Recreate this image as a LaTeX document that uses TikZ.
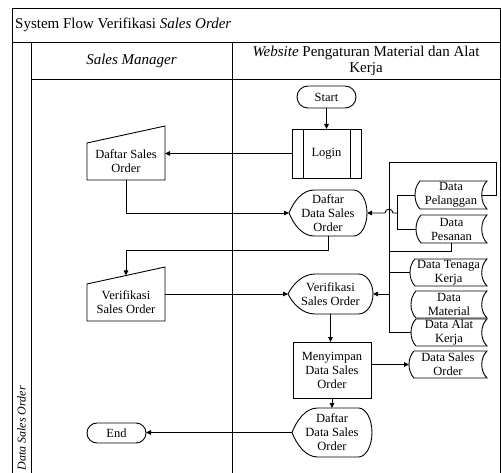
\documentclass[tikz,border=0pt]{standalone}
\usepackage{fontspec}
\setmainfont{Liberation Serif}
\usetikzlibrary{arrows.meta,shapes.misc,calc}

\tikzset{
  ln/.style={line width=0.9pt},
  arr/.style={ln,-{Triangle[length=5pt,width=4.5pt]}},
  txt/.style={align=center,font=\fontsize{12.5}{14}\selectfont,inner sep=0pt,outer sep=0pt},
  hdr/.style={align=center,font=\fontsize{15}{17}\selectfont,inner sep=0pt},
  term/.style={txt,draw,ln,rounded rectangle,minimum width=59pt},
}

\newcommand\MyManual[7]{%
  \pgfmathsetmacro\shW{#4-#2}\pgfmathsetmacro\shH{#5-#3}%
  \draw[ln] (#2,{#3+#6}) -- (#4,#3) -- (#4,#5) -- (#2,#5) -- cycle;
  \node[txt,minimum width=\shW pt,minimum height=\shH pt] (#1) at ({(#2+#4)/2},{(#3+#5)/2}) {};
  \node[txt] (#1-t) at ({(#2+#4)/2},{(#3+#6+#5)/2}) {#7};
  \coordinate (#1-top) at ({(#2+#4)/2},{#3+#6/2});
}
\newcommand\MyDisplay[6]{%
  \pgfmathsetmacro\shW{#4-#2}\pgfmathsetmacro\shH{#5-#3}\pgfmathsetmacro\shM{(#3+#5)/2}%
  \pgfmathsetmacro\shA{#2+0.32*\shW}\pgfmathsetmacro\shB{#4-0.17*\shW}\pgfmathsetmacro\shC{#4-0.17*\shW*0.45}%
  \draw[ln] (#2,\shM) .. controls ({#2+0.06*\shW},{#3+0.25*\shH}) and ({#2+0.17*\shW},#3) .. (\shA,#3)
     -- (\shB,#3) .. controls (\shC,#3) and (#4,{\shM-0.276*\shH}) .. (#4,\shM)
     .. controls (#4,{\shM+0.276*\shH}) and (\shC,#5) .. (\shB,#5)
     -- (\shA,#5) .. controls ({#2+0.17*\shW},#5) and ({#2+0.06*\shW},{#5-0.25*\shH}) .. (#2,\shM) -- cycle;
  \node[txt,minimum width=\shW pt,minimum height=\shH pt] (#1) at ({(#2+#4)/2},\shM) {#6};
}
\newcommand\MyStore[6]{%
  \pgfmathsetmacro\shW{#4-#2}\pgfmathsetmacro\shH{#5-#3}%
  \draw[ln] ({#2+5},#3) -- (#4,#3) .. controls ({#4-7},{#3+0.25*\shH}) and ({#4-7},{#5-0.25*\shH}) .. (#4,#5)
     -- ({#2+5},#5) .. controls ({#2-1.67},{#5-0.25*\shH}) and ({#2-1.67},{#3+0.25*\shH}) .. ({#2+5},#3) -- cycle;
  \node[txt,minimum width=\shW pt,minimum height=\shH pt] (#1) at ({(#2+#4)/2},{(#3+#5)/2}) {#6};
}

\begin{document}
\begin{tikzpicture}[x=1pt,y=-1pt]
\useasboundingbox (0,0) rectangle (501,473);
\clip (0,0) rectangle (501,473);

% frame
\draw[ln] (12,480) -- (12,8) -- (500,8) -- (500,480);
\draw[ln] (12,42) -- (500,42);
\draw[ln] (31,42) -- (31,480);
\draw[ln] (232,42) -- (232,480);
\draw[ln] (31,79) -- (500,79);

\node[hdr,anchor=west] (title) at (15,25) {System Flow Verifikasi \textit{Sales Order}};
\node[hdr] (hsm) at (131.5,61) {\textit{Sales Manager}};
\node[hdr,font=\fontsize{15}{16}\selectfont] (hweb) at (366,61) {\textit{Website} Pengaturan Material dan Alat\\Kerja};
\node[rotate=90,anchor=east,inner sep=0pt,font=\fontsize{12}{14}\selectfont\itshape] (lane) at (21.5,386) {Data Sales Order};

% nodes
\node[term,minimum height=22pt] (start) at (326.5,97) {Start};
\node[txt,draw,ln,minimum width=69pt,minimum height=49pt] (login) at (326.5,153.5) {Login};
\draw[ln] ($(login.north west)+(11,0)$) -- ($(login.south west)+(11,0)$);
\draw[ln] ($(login.north east)+(-11,0)$) -- ($(login.south east)+(-11,0)$);

\MyManual{dso1}{87}{126}{165}{180}{17}{Daftar Sales\\Order}
\MyDisplay{dds1}{289}{190}{367}{236}{Daftar\\Data Sales\\Order}
\MyManual{vso1}{87}{267}{165}{321}{17}{Verifikasi\\Sales Order}
\MyDisplay{vso2}{288}{274}{373}{314}{Verifikasi\\Sales Order}
\node[txt,draw,ln,minimum width=78pt,minimum height=56pt] (simpan) at (332,370) {Menyimpan\\Data Sales\\Order};
\MyDisplay{dds2}{292}{408}{372}{457}{Daftar\\Data Sales\\Order}
\node[term,minimum height=20pt] (end) at (116.5,433) {End};

\MyStore{dp}{415}{181}{487}{209}{Data\\Pelanggan}
\MyStore{dps}{416}{215}{487}{243}{Data\\Pesanan}
\MyStore{tenaga}{410}{259}{487}{286}{Data Tenaga\\Kerja}
\MyStore{mat}{411}{291}{487}{318}{Data\\Material}
\MyStore{alat}{411}{319}{487}{346}{Data Alat\\Kerja}
\MyStore{dsso}{409}{351}{487}{378}{Data Sales\\Order}

% flow connectors
\draw[arr] (start) -- (login);
\draw[arr] (login.west) -- (login.west -| dso1.east);
\draw[arr] (dso1.south) |- (dds1.west);
\draw[arr] (dds1.south) -- ++(0,14) -| (vso1-top);
\draw[arr] (vso1.east) -- (vso1.east -| vso2.west);
\draw[arr] (vso2.south) -- (vso2.south |- simpan.north);
\draw[arr] (simpan.east |- dsso.west) -- (dsso.west);
\draw[arr] (simpan.south) -- (simpan.south |- dds2.north);
\draw[arr] (dds2.west) -- (dds2.west -| end.east);

% data store connectors
\coordinate (j1) at (397,213);
\coordinate (b1) at (496,162);
\coordinate (b2) at (389,162);
\draw[ln] (dp.west) -- (dp.west -| j1) -- (dps.west -| j1) -- (dps.west);
\draw[arr] (j1) -- ++(-4,0) .. controls +(0,-5) and +(0,-5) .. ++(-8,0) -- (dds1.east);
\draw[ln] ($(dp.east)+(-5,0)$) -- (dp.east -| b1) -- (b1) -- (b2) -- (b2 |- alat.west) -- (alat.west);
\draw[ln] (dps.south) -- ++(0,8) coordinate (k) -- (k -| b2);
\draw[ln] (b2 |- tenaga.west) -- (tenaga.west);
\draw[arr] (b2 |- vso2.east) -- (vso2.east);
\end{tikzpicture}
\end{document}
